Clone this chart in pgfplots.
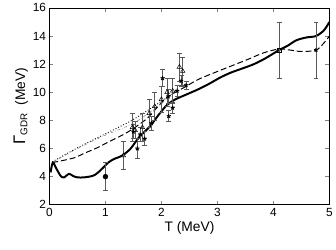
\documentclass[border=0pt]{standalone}
\usepackage{pgfplots}
\pgfplotsset{compat=1.18}
\usepackage{fontspec}
\setmainfont{Liberation Sans}
\begin{document}
\begin{tikzpicture}
\begin{axis}[
  scale only axis, width=283bp, height=199bp,
  xmin=0, xmax=5, ymin=2, ymax=16,
  xtick={0,1,2,3,4,5}, ytick={2,4,6,8,10,12,14,16},
  tick align=inside, major tick length=4bp,
  tick style={gray, line width=0.6pt},
  /pgf/number format/assume math mode=true,
  ticklabel style={font=\fontsize{12}{14}\selectfont},
  xlabel={T (MeV)}, xlabel style={font=\fontsize{14}{16}\selectfont, yshift=2bp},
  ylabel={{\fontsize{17}{17}\selectfont Γ}\textsubscript{\fontsize{10}{10}\selectfont GDR}\ \ (MeV)},
  ylabel style={font=\fontsize{14}{16}\selectfont, yshift=-2bp},
  axis line style={black, line width=0.6pt},
  error bars/error bar style={gray!70!black, line width=0.8pt},
  error bars/error mark options={rotate=90, mark size=2.5pt, gray!70!black, line width=0.8pt},
]
% dotted
\addplot[black, dotted, line width=0.9pt, smooth] coordinates {
(0.05,5.05) (0.5,6.05) (1.0,7.05) (1.47,8.0) (1.94,9.2) (2.2,9.9)};
% dash-dot thin grey
\addplot[gray, dash dot, line width=0.5pt, smooth] coordinates {
(0.05,5.0) (0.5,6.0) (1.0,6.95) (1.5,7.8) (1.9,8.9) (2.2,9.8)};
% dashed
\addplot[black, dashed, dash pattern=on 6pt off 3pt, line width=1pt, smooth] coordinates {
(0.05,5.0) (0.24,5.15) (0.45,5.35) (0.62,5.66) (0.85,6.05) (1.06,6.48) (1.25,6.85) (1.41,7.2) (1.58,7.65)
(1.76,8.2) (1.94,9.0) (2.12,9.7) (2.41,10.35) (2.65,10.9) (2.95,11.4) (3.24,11.86) (3.55,12.35)
(3.82,12.8) (4.1,13.08) (4.3,13.0) (4.5,12.9) (4.76,13.0) (4.9,13.5) (5.0,14.0)};
% thick solid
\addplot[black, line width=2pt, smooth] coordinates {
(0.02,4.3) (0.06,5.0) (0.12,4.6) (0.2,4.05) (0.26,3.95) (0.35,4.2) (0.42,4.05) (0.5,3.95) (0.62,3.95)
(0.8,4.1) (0.95,4.6) (1.05,5.0) (1.15,5.25) (1.3,5.5) (1.45,6.0) (1.6,6.8) (1.8,7.6) (1.95,8.4)
(2.1,9.1) (2.25,9.5) (2.45,9.85) (2.65,10.2) (2.85,10.6) (3.05,11.05) (3.24,11.4) (3.45,11.7) (3.65,12.0)
(3.85,12.4) (4.1,13.0) (4.25,13.3) (4.41,13.7) (4.59,13.9) (4.76,14.0) (4.9,14.4) (5.0,15.0)};
% open triangles
\addplot[only marks, mark=triangle, mark size=2.6pt, mark options={black, fill=white, line width=0.5pt},
  error bars/.cd, y dir=both, y explicit] coordinates {
(1.32,5.5) +- (0,1.0)
(1.48,7.5) +- (0,1.0)
(1.53,7.3) +- (0,0.6)
(1.66,7.5) +- (0,1.0)
(1.78,8.5) +- (0,1.0)
(1.88,9.0) +- (0,1.0)
(2.0,9.5) +- (0,0.9)
(2.1,10.0) +- (0,1.0)
(2.2,10.1) +- (0,0.9)
(2.32,11.8) +- (0,1.0)
(2.38,11.5) +- (0,1.0)
};
% filled stars
\addplot[only marks, mark=star, mark size=2.2pt, mark options={black, line width=1pt},
  error bars/.cd, y dir=both, y explicit] coordinates {
(1.5,7.2) +- (0,0.5)
(1.57,6.0) +- (0,0.7)
(1.62,7.0) +- (0,0.5)
(1.7,6.7) +- (0,0.5)
(1.82,7.8) +- (0,0.5)
(2.02,11.0) +- (0,0.6)
(2.12,9.7) +- (0,0.5)
(2.13,8.3) +- (0,0.4)
(2.2,8.9) +- (0,0.4)
(2.28,10.1) +- (0,0.4)
(2.35,10.8) +- (0,0.4)
(2.44,10.5) +- (0,0.3)
(4.76,13.0) +- (0,2.0)
};
% filled circle
\addplot[only marks, mark=*, mark size=2.5pt, mark options={black},
  error bars/.cd, y dir=both, y explicit] coordinates {
(1.0,4.0) +- (0,1.0)
};
% open square
\addplot[only marks, mark=square, mark size=2pt, mark options={black, fill=white, line width=0.6pt},
  error bars/.cd, y dir=both, y explicit] coordinates {
(4.1,13.0) +- (0,2.0)
};
\end{axis}
\path (current axis.south west) ++(-50bp,-45bp);
\path (current axis.north east) ++(3bp,8bp);
\end{tikzpicture}
\end{document}
